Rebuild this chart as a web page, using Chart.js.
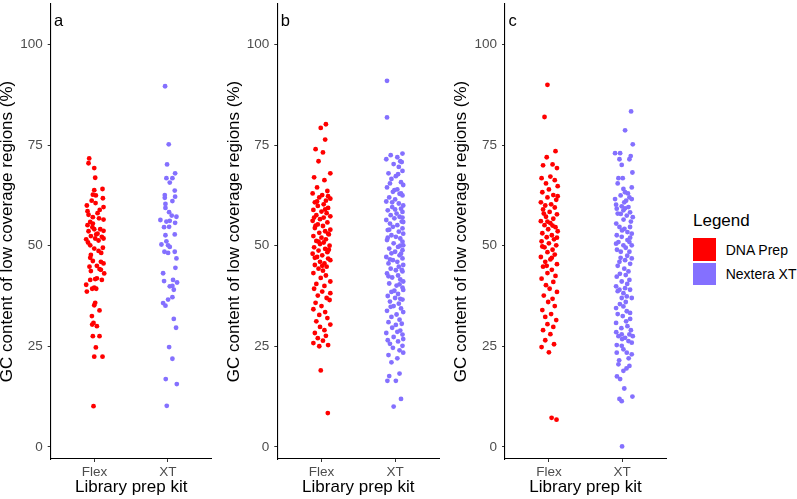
<!DOCTYPE html>
<html>
<head>
<meta charset="utf-8">
<script src="https://cdn.jsdelivr.net/npm/chart.js@4.4.1/dist/chart.umd.min.js"></script>
<style>
  body { margin: 0; background: #fff; width: 797px; height: 499px; position: relative; overflow: hidden;
         font-family: "Liberation Sans", Arial, sans-serif; }
  canvas { position: absolute; top: 0; }
  .lg-title { position: absolute; left: 693px; top: 211.6px; font-size: 17px; line-height: 17px; color: #000; }
  .lg-key { position: absolute; left: 693px; width: 23px; height: 22.5px; }
  .lg-label { position: absolute; left: 725.7px; font-size: 14px; line-height: 14px; color: #000; white-space: nowrap; }
</style>
</head>
<body>
<canvas id="panel-a" width="221" height="499" style="left:-3px"></canvas>
<canvas id="panel-b" width="221" height="499" style="left:224px"></canvas>
<canvas id="panel-c" width="221" height="499" style="left:451px"></canvas>

<div class="lg-title">Legend</div>
<div class="lg-key" style="top:238px;background:#FF0000"></div>
<div class="lg-key" style="top:262.5px;background:#8470FF"></div>
<div class="lg-label" style="top:243.2px">DNA Prep</div>
<div class="lg-label" style="top:266.5px">Nextera XT</div>

<script>
// categories and tick labels
const categories = ['Flex', 'XT'];
const seriesNames = ['DNA Prep', 'Nextera XT'];
const yTicks = [0, 25, 50, 75, 100];
const panelTags = ['a', 'b', 'c'];

// each point: [GC %, horizontal jitter]
const flexA = [
  [71.7,-0.074],[70.5,-0.083],[69.3,-0.005],[66.9,0.008],[64.1,0.108],[63.8,-0.005],[62.7,-0.024],[62.5,0.017],
  [61.8,0.113],[60.0,-0.106],[60.6,0.013],[59.6,0.122],[58.6,-0.097],[57.7,-0.083],[58.1,0.040],[57.1,-0.024],
  [56.5,0.122],[55.9,-0.060],[55.1,-0.097],[55.5,-0.024],[54.1,-0.005],[54.1,0.077],[53.6,-0.083],[53.7,0.122],
  [52.8,0.022],[52.4,-0.051],[52.2,0.099],[51.8,0.008],[51.6,-0.115],[51.8,0.122],[51.3,0.054],[50.1,-0.060],
  [49.3,-0.005],[49.5,0.113],[48.7,0.054],[47.7,-0.051],[47.0,-0.060],[46.2,-0.024],[46.0,0.086],[45.6,0.122],
  [45.0,0.031],[44.2,0.067],[43.7,-0.051],[44.0,0.086],[43.1,0.131],[41.9,0.031],[41.5,-0.060],[41.7,0.008],
  [41.5,0.099],[40.3,-0.115],[39.6,-0.005],[39.3,0.022],[38.6,-0.106],[39.3,-0.033],[35.8,0.008],[35.2,-0.005],
  [33.9,0.067],[32.5,-0.037],[30.8,-0.015],[30.4,-0.033],[30.0,0.031],[27.5,-0.024],[27.5,0.067],[24.7,0.017],
  [22.4,-0.005],[22.4,0.108],[10.1,-0.015],
  [56.8,0.060],[53.0,0.040],[50.8,-0.090],[48.2,0.090],[58.9,0.070],[61.2,-0.040],[54.6,-0.030],[44.8,-0.070]
];
const xtA = [
  [89.65,-0.037],[75.2,0.013],[70.2,-0.010],[68.0,0.100],[66.8,-0.019],[66.8,0.063],[65.7,0.027],[63.7,0.095],
  [62.6,-0.041],[62.2,0.100],[61.9,-0.041],[61.1,0.063],[60.4,-0.032],[59.4,-0.032],[58.35,0.018],[57.5,0.054],
  [57.2,0.118],[56.4,-0.101],[56.0,-0.019],[56.2,0.027],[55.7,0.100],[54.7,0.018],[54.6,-0.051],[52.6,-0.032],
  [52.8,0.095],[51.1,-0.019],[50.3,-0.087],[50.1,0.004],[49.7,0.027],[48.5,-0.046],[48.2,0.004],[48.5,0.095],
  [46.85,0.118],[44.5,0.104],[43.15,-0.064],[41.2,-0.051],[41.5,0.072],[40.85,0.127],[39.9,0.027],[40.0,0.063],
  [39.05,0.082],[37.2,0.063],[36.6,0.004],[35.75,-0.064],[35.1,-0.032],[31.8,0.082],[29.6,0.113],[24.8,0.018],
  [21.9,0.063],[16.85,-0.028],[15.6,0.123],[10.2,-0.014]
];
const flexB = [
  [80.2,0.06],[79.3,-0.01],[76.4,0.05],[74.0,-0.08],[73.2,0.02],[71.0,-0.04],[68.0,0.12],[67.0,-0.10],
  [66.3,0.04],[64.5,-0.06],[63.6,0.08],[63.0,-0.12],[62.6,0.01],[62.0,-0.03],[61.7,0.12],[61.2,0.06],
  [60.8,-0.09],[60.3,0.03],[59.9,-0.05],[59.4,0.09],[58.9,-0.11],[58.5,0.00],[58.1,0.07],[57.6,-0.07],
  [57.3,0.12],[57.0,0.03],[56.6,-0.02],[56.2,-0.12],[55.8,0.08],[55.3,-0.05],[54.9,0.02],[54.4,-0.09],
  [54.0,0.12],[53.6,0.05],[53.2,-0.03],[52.8,0.10],[52.4,-0.11],[52.0,0.00],[51.6,0.06],[51.2,-0.07],
  [50.8,0.03],[50.4,-0.02],[50.0,0.11],[49.6,-0.10],[49.2,0.05],[48.8,-0.04],[48.4,0.08],[48.0,-0.12],
  [47.6,0.01],[47.2,-0.06],[46.8,0.09],[46.4,0.12],[46.0,-0.02],[45.6,0.04],[45.2,-0.09],[44.8,0.07],
  [44.3,-0.04],[43.8,0.02],[43.2,-0.11],[42.6,0.06],[42.0,-0.01],[41.1,0.12],[40.5,-0.07],[40.0,0.04],
  [39.3,-0.10],[38.6,0.01],[38.2,0.12],[37.6,-0.05],[37.0,0.07],[36.5,0.11],[35.8,-0.08],[35.0,0.00],
  [34.2,-0.11],[33.5,0.05],[32.8,-0.03],[32.0,0.08],[31.2,-0.07],[30.4,0.12],[29.8,-0.02],[29.0,0.04],
  [28.3,-0.09],[27.6,0.06],[27.0,-0.05],[26.4,0.02],[25.8,-0.11],[25.3,0.09],[25.0,-0.03],[19.0,-0.01],
  [8.4,0.086],
  [55.0,-0.08],[53.0,0.09],[51.0,-0.04],[49.0,0.10],[47.0,-0.09],[45.0,0.01],[59.0,0.05],[61.0,-0.06],
  [57.0,-0.10],[62.3,0.09]
];
const xtB = [
  [91.0,-0.11],[81.9,-0.11],[72.9,0.10],[72.5,-0.06],[72.0,0.03],[71.5,-0.12],[71.0,0.07],[70.3,-0.02],
  [69.6,0.05],[68.6,0.10],[68.0,-0.09],[67.3,0.01],[66.6,-0.05],[65.8,0.08],[65.1,0.11],[64.5,-0.11],
  [64.0,0.03],[63.4,-0.03],[62.9,0.06],[62.5,0.10],[62.0,-0.08],[61.5,0.00],[61.0,-0.12],[60.5,0.05],
  [60.0,0.11],[59.6,-0.04],[59.2,0.08],[58.8,-0.10],[58.4,0.10],[58.0,0.02],[57.6,-0.06],[57.2,0.06],
  [56.8,-0.01],[56.4,-0.12],[56.0,0.09],[55.9,0.11],[55.5,-0.07],[55.1,0.03],[54.7,-0.03],[54.3,0.10],
  [53.9,-0.10],[53.5,0.05],[53.0,0.11],[52.6,-0.05],[52.2,0.01],[51.8,0.07],[51.4,-0.11],[51.0,0.10],
  [50.6,-0.02],[50.1,0.11],[49.7,0.04],[49.3,-0.08],[48.9,0.10],[48.5,0.00],[48.1,-0.05],[47.6,0.06],
  [47.2,-0.12],[46.85,0.10],[46.4,-0.03],[46.0,0.03],[45.6,-0.09],[45.2,0.11],[44.8,0.05],[44.3,-0.06],
  [43.9,0.01],[43.6,0.10],[43.1,-0.11],[42.6,0.04],[42.1,-0.04],[41.6,0.07],[41.1,0.11],[40.6,-0.08],
  [40.1,0.02],[39.6,0.10],[39.0,0.11],[38.5,-0.05],[38.0,0.04],[37.5,-0.10],[37.0,0.00],[36.6,0.10],
  [36.1,-0.07],[35.6,0.05],[35.0,-0.02],[34.4,0.08],[33.8,-0.11],[33.5,0.11],[32.9,0.02],[32.3,-0.05],
  [31.6,0.06],[31.0,-0.09],[30.3,0.01],[29.6,-0.04],[28.9,0.07],[28.3,-0.12],[27.9,0.10],[27.3,-0.02],
  [26.8,0.11],[26.2,0.04],[25.6,-0.07],[25.1,0.10],[24.6,-0.03],[23.4,0.11],[22.8,-0.09],[22.0,0.03],
  [21.0,-0.05],[18.2,0.06],[17.6,-0.08],[16.4,-0.105],[16.4,0.01],[11.9,0.08],[10.0,-0.02],
  [63.0,0.08],[60.8,-0.04],[59.0,0.00],[57.0,0.10],[54.0,-0.08],[52.0,-0.10],[50.0,0.07],[48.0,0.08],
  [46.6,-0.07],[44.0,0.09],[42.4,-0.09],[40.4,0.06],[38.8,-0.01],[36.8,0.07],[34.8,-0.06],[30.6,0.09],
  [28.6,0.03],[26.5,-0.10],[24.0,0.06],[70.8,0.09],[67.8,0.04],[65.5,-0.07],[63.8,-0.01]
];
const flexC = [
  [90.0,-0.02],[82.0,-0.06],[73.5,0.09],[72.0,-0.03],[70.2,0.05],[70.0,-0.08],[69.3,0.11],[67.2,0.02],
  [66.8,-0.10],[66.3,0.08],[65.5,-0.04],[64.8,0.12],[64.0,0.00],[63.3,-0.09],[62.6,0.06],[62.0,-0.02],
  [61.4,0.10],[60.8,-0.11],[60.3,0.03],[60.0,-0.05],[59.5,0.08],[59.0,-0.08],[58.4,0.01],[57.8,0.11],
  [57.2,-0.04],[56.7,0.06],[56.1,-0.11],[55.6,0.02],[55.1,-0.06],[54.6,0.09],[54.1,-0.01],[53.6,0.12],
  [53.1,-0.09],[52.6,0.04],[52.1,-0.03],[51.6,0.07],[51.1,-0.10],[50.6,0.00],[50.1,0.10],[49.6,-0.06],
  [49.0,0.05],[48.4,-0.02],[47.8,0.08],[47.2,-0.11],[46.6,0.02],[46.0,-0.05],[45.4,0.11],[44.8,-0.08],
  [44.0,0.04],[43.2,-0.02],[42.5,0.09],[41.8,-0.10],[41.0,0.06],[40.2,-0.04],[39.3,0.01],[38.5,0.11],
  [37.6,-0.07],[36.8,0.05],[36.0,-0.01],[35.0,0.08],[34.0,-0.09],[33.0,0.03],[32.3,-0.05],[31.5,0.10],
  [30.5,-0.02],[29.8,0.06],[29.0,-0.08],[28.0,0.02],[26.5,-0.05],[25.5,0.07],[24.8,-0.10],[23.5,0.00],
  [7.2,0.037],[6.75,0.104],
  [58.0,-0.07],[55.0,0.05],[52.0,0.11],[49.8,-0.09],[47.0,0.04],[45.0,-0.03],[62.3,0.12],[56.0,-0.02]
];
const xtC = [
  [83.4,0.123],[78.7,0.041],[75.2,0.146],[73.0,-0.096],[73.0,-0.027],[72.3,0.118],[71.5,-0.036],[71.5,0.100],
  [70.1,-0.005],[68.2,0.141],[66.8,-0.050],[66.8,0.009],[64.1,0.018],[64.5,0.132],[63.3,0.041],[61.6,-0.096],
  [62.0,0.100],[61.2,0.055],[61.6,0.132],[60.2,-0.082],[59.8,-0.005],[59.6,0.087],[59.2,-0.073],[58.8,0.018],
  [59.3,0.041],[58.3,0.109],[57.9,-0.018],[57.5,0.064],[57.1,0.146],[54.65,-0.036],[54.65,0.109],[54.2,0.032],
  [53.4,0.073],[52.6,-0.073],[53.0,0.132],[52.2,-0.005],[51.4,0.073],[50.9,-0.050],[50.9,0.100],[50.1,0.018],
  [50.1,0.132],[50.5,-0.082],[48.5,-0.018],[48.5,0.100],[46.85,0.132],[46.0,-0.036],[46.4,0.041],[43.6,0.087],
  [42.7,0.050],[42.3,-0.073],[41.1,-0.005],[41.5,0.100],[39.9,-0.082],[39.45,0.041],[39.05,0.109],[39.05,-0.036],
  [38.2,0.018],[37.4,0.064],[37.0,-0.005],[37.0,0.132],[34.5,-0.082],[34.9,0.018],[33.7,0.064],[33.3,0.109],
  [32.5,0.009],[30.8,-0.082],[31.2,0.055],[30.0,0.073],[27.95,-0.005],[27.95,0.100],[27.5,-0.050],[27.5,0.146],
  [27.1,0.041],[26.3,0.087],[25.3,-0.073],[25.1,-0.005],[25.9,0.132],[24.25,0.018],[23.4,-0.073],[23.4,0.064],
  [23.0,0.132],[20.5,-0.050],[18.9,0.018],[20.1,0.100],[16.85,-0.027],[11.9,-0.036],[11.35,-0.005],[12.5,0.141],
  [0.1,0.000],
  [65.5,-0.06],[63.0,0.08],[62.5,-0.02],[60.8,0.03],[58.0,-0.06],[56.5,0.02],[56.0,0.12],[55.5,-0.08],
  [53.8,0.00],[52.0,0.11],[49.5,0.05],[49.0,-0.07],[47.5,0.07],[47.0,-0.02],[45.5,0.11],[45.0,-0.06],
  [44.3,0.03],[43.0,-0.03],[40.5,0.07],[38.7,-0.06],[36.0,0.05],[35.5,-0.03],[33.0,-0.06],[31.8,0.11],
  [29.5,-0.01],[29.0,0.12],[28.5,-0.08],[26.8,0.00],[22.0,0.09],[21.5,-0.04],[19.5,0.06],[17.5,-0.07],[14.5,0.03]
];

const RED = '#FF0000';
const PURPLE = '#8470FF';
const FONT = '"Liberation Sans", Arial, sans-serif';

// draws the panel tag (a, b, c) in the top left corner
const tagPlugin = {
  id: 'panelTag',
  afterDraw(chart, args, opts) {
    const ctx = chart.ctx;
    ctx.save();
    ctx.font = '16.5px ' + FONT;
    ctx.fillStyle = '#000';
    ctx.textBaseline = 'alphabetic';
    ctx.fillText(opts.text, chart.chartArea.left + 3.4, 26);
    ctx.restore();
  }
};

function toPoints(arr, pos) {
  return arr.map(([v, j]) => ({ x: pos + j, y: v }));
}

function makePanel(id, tag, flex, xt, axisW, plotW) {
  const canvas = document.getElementById(id);
  const rightPad = canvas.width - axisW - plotW;
  const tickStyle = { font: { family: FONT, size: 13.5 }, color: '#4D4D4D' };
  const gridStyle = { display: true, drawOnChartArea: false, drawTicks: true, tickLength: 3, color: '#333333', lineWidth: 1 };
  const borderStyle = { display: true, color: '#000000', width: 1.1 };

  new Chart(canvas, {
    type: 'scatter',
    data: {
      datasets: [
        { label: seriesNames[0], data: toPoints(flex, 1), backgroundColor: RED, borderWidth: 0, pointRadius: 2.4, clip: false },
        { label: seriesNames[1], data: toPoints(xt, 2), backgroundColor: PURPLE, borderWidth: 0, pointRadius: 2.4, clip: false }
      ]
    },
    options: {
      responsive: false,
      animation: false,
      devicePixelRatio: 1,
      layout: { padding: { left: 0, right: rightPad, top: 0, bottom: 0 } },
      plugins: {
        legend: { display: false },
        tooltip: { enabled: false },
        panelTag: { text: tag }
      },
      scales: {
        x: {
          type: 'linear',
          min: 0.4,
          max: 2.6,
          afterBuildTicks: s => { s.ticks = categories.map((c, i) => ({ value: i + 1 })); },
          ticks: { ...tickStyle, padding: 2.5, autoSkip: false, maxRotation: 0,
                   callback: v => categories[Math.round(v) - 1] },
          grid: gridStyle,
          border: borderStyle,
          title: { display: true, text: 'Library prep kit', color: '#000', font: { family: FONT, size: 17 },
                   padding: { top: 0, bottom: 1.3 } },
          afterFit: s => { s.height = 40; s.paddingLeft = 0; s.paddingRight = 0; }
        },
        y: {
          type: 'linear',
          min: -3.03,
          max: 110.1,
          afterBuildTicks: s => { s.ticks = yTicks.map(v => ({ value: v })); },
          ticks: { ...tickStyle, padding: 5 },
          grid: gridStyle,
          border: borderStyle,
          title: { display: true, text: 'GC content of low coverage regions (%)', color: '#000',
                   font: { family: FONT, size: 17 }, padding: { top: 0, bottom: 0 } },
          afterFit: s => { s.width = axisW; s.paddingTop = 0; s.paddingBottom = 0; }
        }
      }
    },
    plugins: [tagPlugin]
  });
}

makePanel('panel-a', panelTags[0], flexA, xtA, 53.7, 161);
makePanel('panel-b', panelTags[1], flexB, xtB, 53.3, 162);
makePanel('panel-c', panelTags[2], flexC, xtC, 54.0, 161);
</script>
</body>
</html>
